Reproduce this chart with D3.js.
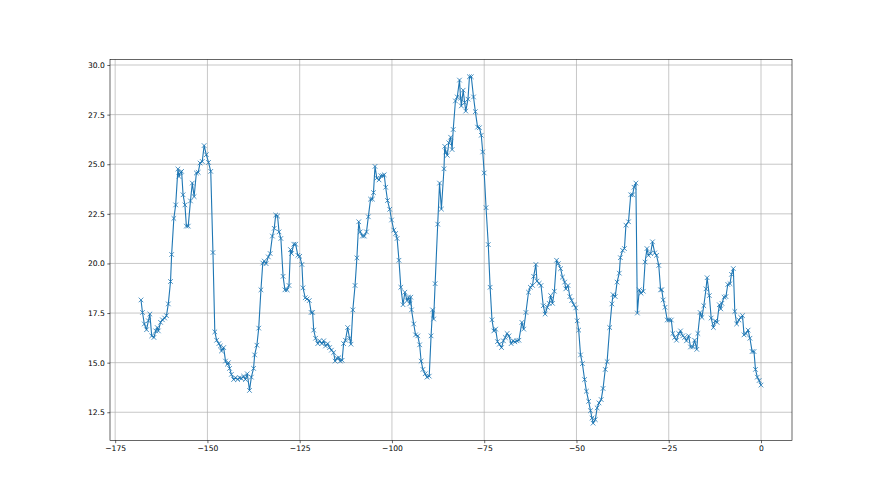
<!DOCTYPE html>
<html>
<head>
<meta charset="utf-8">
<script src="https://cdn.jsdelivr.net/npm/d3@7"></script>
<style>
body { margin: 0; background: #fff; }
text { font-family: "DejaVu Sans", sans-serif; }
</style>
</head>
<body>
<div id="chart"></div>
<script>
// values (x, y pairs kept in two arrays)
var xs = [-168.0,-167.6,-167.1,-166.5,-166.0,-165.6,-165.1,-164.5,-164.0,-163.6,-163.3,-162.7,-162.2,-161.6,-161.1,-160.6,-160.0,-159.7,-159.1,-158.6,
  -158.0,-157.7,-157.3,-157.0,-156.6,-156.1,-155.7,-155.2,-154.6,-154.1,-153.6,-153.0,-152.5,-152.0,-151.4,-150.9,-150.3,-149.7,-149.1,-148.5,
  -148.0,-147.5,-146.9,-146.5,-146.2,-145.6,-145.1,-144.6,-144.3,-144.0,-143.5,-142.9,-142.4,-141.8,-141.3,-140.8,-140.2,-139.7,-139.2,-138.6,
  -138.1,-137.5,-137.2,-136.6,-136.1,-135.5,-135.0,-134.6,-134.1,-133.5,-133.0,-132.4,-131.9,-131.5,-131.0,-130.6,-130.1,-129.5,-129.0,-128.4,
  -127.9,-127.5,-127.2,-126.6,-126.1,-125.5,-125.0,-124.4,-124.1,-123.5,-123.0,-122.4,-121.9,-121.5,-121.2,-120.7,-120.1,-119.6,-119.0,-118.5,
  -118.0,-117.4,-116.9,-116.4,-115.8,-115.4,-114.9,-114.4,-114.0,-113.5,-113.1,-112.6,-112.0,-111.5,-111.1,-110.6,-110.0,-109.5,-109.0,-108.6,
  -108.0,-107.5,-106.9,-106.4,-105.8,-105.3,-105.0,-104.6,-104.1,-103.5,-103.0,-102.5,-102.1,-101.7,-101.2,-100.6,-100.1,-99.5,-99.0,-98.6,
  -98.1,-97.6,-97.0,-96.5,-95.9,-95.5,-95.2,-94.9,-94.7,-94.1,-93.6,-93.0,-92.5,-92.1,-91.6,-91.0,-90.5,-89.9,-89.4,-89.0,
  -88.7,-88.3,-87.6,-87.1,-86.6,-85.9,-85.7,-85.4,-85.0,-84.6,-84.1,-83.7,-83.4,-82.8,-82.3,-81.7,-81.4,-81.2,-80.7,-80.3,
  -80.0,-79.4,-79.0,-78.5,-77.9,-77.4,-76.8,-76.3,-75.8,-75.4,-75.0,-74.5,-73.9,-73.4,-72.9,-72.4,-71.9,-71.4,-70.9,-70.3,
  -69.8,-69.3,-68.8,-68.3,-67.7,-67.2,-66.7,-66.1,-65.6,-64.8,-64.3,-63.7,-63.0,-62.5,-61.9,-61.6,-61.0,-60.7,-60.1,-59.6,
  -59.0,-58.5,-57.9,-57.4,-57.0,-56.5,-56.0,-55.4,-54.9,-54.3,-53.8,-53.2,-52.9,-52.3,-51.8,-51.3,-50.7,-50.2,-49.8,-49.4,
  -48.9,-48.4,-47.8,-47.3,-46.7,-46.2,-45.8,-45.5,-44.9,-44.4,-43.9,-43.3,-42.8,-42.2,-41.7,-41.0,-40.4,-40.1,-39.5,-39.0,
  -38.4,-38.1,-37.5,-37.0,-36.6,-35.9,-35.3,-34.8,-34.4,-33.9,-33.5,-33.0,-32.5,-31.9,-31.4,-30.9,-30.5,-29.9,-29.4,-28.8,
  -28.3,-27.7,-27.2,-26.9,-26.5,-26.0,-25.4,-24.9,-24.3,-23.9,-23.4,-22.9,-22.3,-21.8,-21.2,-20.7,-20.2,-19.6,-19.1,-18.5,
  -18.0,-17.4,-17.1,-16.5,-16.0,-15.5,-14.9,-14.6,-14.0,-13.5,-12.9,-12.4,-11.9,-11.3,-10.9,-10.6,-10.0,-9.5,-9.0,-8.4,
  -8.0,-7.5,-7.1,-6.6,-6.0,-5.5,-5.0,-4.6,-4.1,-3.5,-3.0,-2.4,-1.9,-1.5,-1.0,-0.5,0.0];

var ys = [18.16,17.53,16.95,16.66,17.11,17.45,16.35,16.27,16.6,16.77,16.6,17.03,17.16,17.25,17.37,17.96,19.09,20.45,22.27,22.95,
  24.76,24.38,24.59,24.64,23.46,22.95,21.88,21.88,23.15,24.05,23.37,24.56,24.59,25.06,25.14,25.94,25.48,25.09,24.64,20.55,
  16.55,16.13,15.96,15.84,15.59,15.76,15.08,14.92,15.0,14.71,14.41,14.15,14.24,14.15,14.24,14.2,14.32,14.15,14.44,13.6,
  14.27,14.71,15.39,15.88,16.74,18.67,20.02,20.12,19.99,20.33,20.5,21.38,21.77,22.44,22.39,21.59,21.26,19.35,18.67,18.67,
  18.89,20.7,20.5,20.97,20.97,20.41,20.36,19.95,18.77,18.27,18.21,18.13,17.53,17.53,16.64,16.23,15.96,16.1,15.96,16.1,
  15.84,15.96,15.76,15.63,15.51,15.08,15.22,15.25,15.08,15.12,15.96,16.13,16.77,16.23,15.93,17.66,18.89,20.28,22.1,21.59,
  21.38,21.38,21.59,22.35,23.24,23.24,23.57,24.89,24.3,24.21,24.42,24.42,24.47,23.84,23.17,22.73,22.19,21.68,21.51,21.26,
  20.16,18.8,17.92,18.55,18.13,18.3,17.96,18.3,17.66,16.95,16.4,16.35,15.9,15.08,14.66,14.44,14.27,14.32,16.35,17.66,
  17.2,18.98,21.98,24.05,22.74,24.77,25.9,25.62,25.45,26.08,26.36,25.74,26.75,28.19,28.39,29.24,28.33,27.94,28.73,28.11,
  27.68,28.28,29.41,29.41,28.39,27.65,26.87,26.84,26.46,25.62,24.56,22.81,20.95,18.8,17.16,16.6,16.69,16.06,15.93,15.76,
  16.1,16.27,16.47,16.35,15.96,16.1,16.05,16.1,16.13,17.03,16.69,17.53,18.55,18.8,18.89,19.35,19.95,19.11,19.0,18.89,
  17.87,17.45,17.79,17.99,18.38,17.99,18.6,20.16,19.99,19.74,19.31,19.06,18.72,18.89,18.33,18.13,17.92,17.76,17.11,16.64,
  15.39,14.95,14.15,13.56,13.05,12.58,12.21,11.95,12.13,12.72,12.97,13.14,13.7,14.66,15.05,16.77,17.96,18.43,18.33,19.06,
  19.51,20.29,20.66,20.75,21.93,22.1,23.46,23.46,23.84,24.05,17.5,18.67,18.5,18.6,20.07,20.75,20.41,20.5,21.09,20.53,
  20.41,19.9,18.67,18.67,18.16,17.79,17.15,17.15,17.15,16.47,16.27,16.13,16.47,16.6,16.35,16.27,16.1,16.35,15.79,15.79,
  16.13,15.67,16.47,17.53,17.28,17.87,18.72,19.28,18.38,17.25,16.77,17.11,17.03,17.92,17.71,17.99,18.3,18.33,18.94,18.98,
  19.45,19.74,17.58,16.95,17.15,17.28,17.37,16.4,16.47,16.64,16.23,15.56,15.56,14.66,14.27,14.1,13.87];

var xTicks = [-175, -150, -125, -100, -75, -50, -25, 0];
var yTicks = [12.5, 15.0, 17.5, 20.0, 22.5, 25.0, 27.5, 30.0];

var width = 880, height = 495;
var margin = {top: 59.4, right: 88, bottom: 54.5, left: 110};
var innerW = width - margin.left - margin.right,
    innerH = height - margin.top - margin.bottom;

var data = xs.map(function(x, i) { return {x: x, y: ys[i]}; });

// matplotlib style 5% margins
var xExt = d3.extent(xs), yExt = d3.extent(ys);
var xPad = (xExt[1] - xExt[0]) * 0.05, yPad = (yExt[1] - yExt[0]) * 0.05;

var x = d3.scaleLinear().domain([xExt[0] - xPad, xExt[1] + xPad]).range([0, innerW]);
var y = d3.scaleLinear().domain([yExt[0] - yPad, yExt[1] + yPad]).range([innerH, 0]);

var svg = d3.select("#chart").append("svg")
    .attr("width", width)
    .attr("height", height);

var g = svg.append("g")
    .attr("transform", "translate(" + margin.left + "," + margin.top + ")");

var minus = function(v) { return String(v).replace("-", "\u2212"); };

// grid
g.append("g").selectAll("line").data(xTicks).enter().append("line")
    .attr("x1", function(d) { return x(d); }).attr("x2", function(d) { return x(d); })
    .attr("y1", 0).attr("y2", innerH)
    .attr("stroke", "#b0b0b0").attr("stroke-width", 0.7);
g.append("g").selectAll("line").data(yTicks).enter().append("line")
    .attr("y1", function(d) { return y(d); }).attr("y2", function(d) { return y(d); })
    .attr("x1", 0).attr("x2", innerW)
    .attr("stroke", "#b0b0b0").attr("stroke-width", 0.7);

// axes
var xAxis = g.append("g")
    .attr("transform", "translate(0," + innerH + ")")
    .call(d3.axisBottom(x).tickValues(xTicks).tickSize(2.7).tickPadding(2.5)
      .tickFormat(function(d) { return minus(d); }));
var yAxis = g.append("g")
    .call(d3.axisLeft(y).tickValues(yTicks).tickSize(2.7).tickPadding(2.5)
      .tickFormat(d3.format(".1f")));

[xAxis, yAxis].forEach(function(a) {
  a.select(".domain").remove();
  a.selectAll(".tick line").attr("stroke", "#000").attr("stroke-width", 0.6);
  a.selectAll(".tick text").attr("fill", "#000").style("font-size", "7.6px")
    .style("font-family", "DejaVu Sans, sans-serif");
});

// line
var line = d3.line().x(function(d) { return x(d.x); }).y(function(d) { return y(d.y); });
g.append("path").datum(data)
    .attr("fill", "none")
    .attr("stroke", "#1f77b4")
    .attr("stroke-width", 1.1)
    .attr("stroke-linejoin", "round")
    .attr("d", line);

// x markers
var m = 2.3;
g.append("g").selectAll("path").data(data).enter().append("path")
    .attr("d", function(d) {
      var px = x(d.x), py = y(d.y);
      return "M" + (px - m) + "," + (py - m) + "L" + (px + m) + "," + (py + m) +
             "M" + (px - m) + "," + (py + m) + "L" + (px + m) + "," + (py - m);
    })
    .attr("stroke", "#1f77b4")
    .attr("stroke-width", 0.8)
    .attr("fill", "none");

// frame
g.append("rect")
    .attr("width", innerW).attr("height", innerH)
    .attr("fill", "none").attr("stroke", "#000").attr("stroke-width", 0.6);
</script>
</body>
</html>
